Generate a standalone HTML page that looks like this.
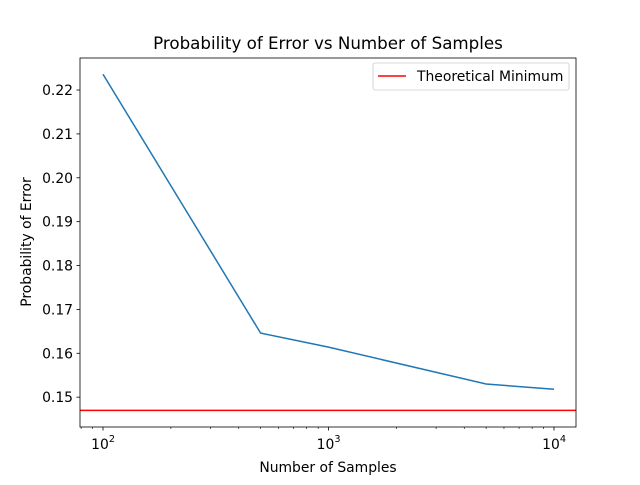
<!DOCTYPE html>
<html><head><meta charset="utf-8"><style>
body{margin:0;background:#fff}
svg text{font-family:"DejaVu Sans","Liberation Sans",sans-serif;fill:#000}
</style></head><body>
<svg width="640" height="480" xmlns="http://www.w3.org/2000/svg">
<rect width="640" height="480" fill="#fff"/>
<g id="plot"></g>
</svg>
<script>
const samples=[100,500,1000,5000,10000];
const errors=[0.2236,0.1646,0.1614,0.1530,0.1518];
const theoreticalMin=[0.1470];
const yTicks=[0.15,0.16,0.17,0.18,0.19,0.20,0.21,0.22];
const xTicks=[100,1000,10000];
const xTickLabels=["2","3","4"];

const L=80,R=576,T=58,B=427;
const xMin=1.898,xMax=4.0976,yMin=0.1432,yMax=0.2273;
const sx=v=>L+(Math.log10(v)-xMin)/(xMax-xMin)*(R-L);
const sy=v=>B-(v-yMin)/(yMax-yMin)*(B-T);
const ns="http://www.w3.org/2000/svg";
const g=document.getElementById('plot');
function mk(t,a,txt){const e=document.createElementNS(ns,t);for(const k in a)e.setAttribute(k,a[k]);if(txt!==undefined)e.textContent=txt;g.appendChild(e);return e;}

let d=samples.map((s,i)=>(i?'L':'M')+sx(s)+','+sy(errors[i])).join(' ');
let p=mk('path',{d:d,fill:'none',stroke:'#1f77b4','stroke-width':1.5});


let h=mk('line',{x1:L,x2:R,y1:sy(theoreticalMin[0]),y2:sy(theoreticalMin[0]),stroke:'red','stroke-width':1.5});



let f=mk('rect',{x:L,y:T,width:R-L,height:B-T,fill:'none',stroke:'#000','stroke-width':0.8});



yTicks.forEach(v=>{const y=sy(v);
 mk('line',{x1:L-3.5,x2:L,y1:y,y2:y,stroke:'#000','stroke-width':0.8});
 let t=mk('text',{x:L-7,y:y+5,'font-size':13.9,'text-anchor':'end'},v.toFixed(2));
 
 
});
xTicks.forEach((v,i)=>{const x=sx(v);
 mk('line',{x1:x,x2:x,y1:B,y2:B+3.5,stroke:'#000','stroke-width':0.8});
 let t=mk('text',{x:x-3,y:B+22,'font-size':13.9,'text-anchor':'middle'},'10');
 
 
 mk('text',{x:x+9,y:B+15,'font-size':9.7,'text-anchor':'middle'},xTickLabels[i]);
});
for(let e=1;e<=4;e++)for(let m=2;m<=9;m++){const v=m*Math.pow(10,e);const x=sx(v);
 if(x>=L&&x<=R)mk('line',{x1:x,x2:x,y1:B,y2:B+2,stroke:'#000','stroke-width':0.6});}

let tt=mk('text',{x:(L+R)/2,y:49,'font-size':16.7,'text-anchor':'middle'},'Probability of Error vs Number of Samples');

let xl=mk('text',{x:(L+R)/2,y:472,'font-size':13.9,'text-anchor':'middle'},'Number of Samples');

let yl=mk('text',{x:0,y:0,'font-size':13.9,'text-anchor':'middle',transform:'translate(31,242) rotate(-90)'},'Probability of Error');


let lg=mk('rect',{x:373,y:63,width:196,height:27,rx:2,fill:'#fff',stroke:'#ccc','stroke-width':0.8});

mk('line',{x1:378,x2:406,y1:76,y2:76,stroke:'red','stroke-width':1.5});
let lt=mk('text',{x:417,y:81,'font-size':13.9},'Theoretical Minimum');

</script>
</body></html>
